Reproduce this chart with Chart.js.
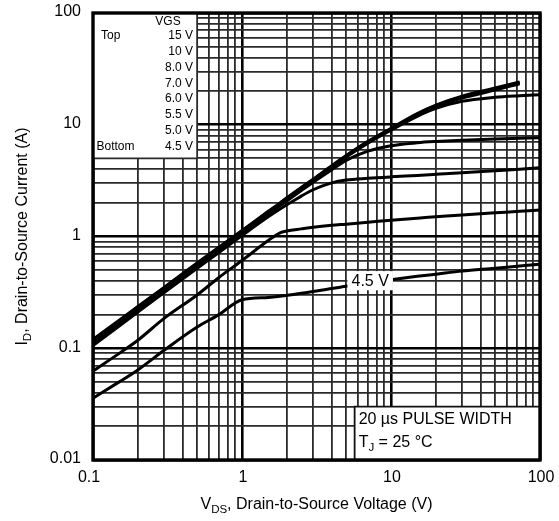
<!DOCTYPE html>
<html><head><meta charset="utf-8">
<script src="https://cdn.jsdelivr.net/npm/chart.js@4.4.1/dist/chart.umd.min.js"></script>
<style>html,body{margin:0;padding:0;background:#fff;}#wrap{width:559px;height:521px;}</style>
</head><body><div id="wrap"><canvas id="c" width="559" height="521"></canvas></div>
<script>
// Drain-to-source voltage (V)
const vds   = [0.1, 0.15, 0.2, 0.3, 0.5, 0.7, 1, 1.5, 1.8, 2, 2.5, 3, 4, 5, 7, 10, 15, 20, 30, 50, 73, 100];
// Drain current (A) per gate voltage
const id15V = [0.12, 0.178, 0.236, 0.35, 0.58, 0.8, 1.13, 1.68, 2.0, 2.22, 2.75, 3.25, 4.3, 5.3, 7.1, 9.3, 12.6, 15.0, 18.0, 21.3, 24.2, null];
const id10V = [0.118, 0.175, 0.233, 0.346, 0.574, 0.792, 1.12, 1.66, 1.98, 2.2, 2.72, 3.22, 4.25, 5.25, 7.0, 9.2, 12.4, 14.8, 17.7, 20.9, 23.8, null];
const id8V  = [0.116, 0.172, 0.23, 0.342, 0.567, 0.785, 1.11, 1.65, 1.96, 2.18, 2.7, 3.19, 4.2, 5.2, 6.95, 9.1, 12.2, 14.5, 17.3, 20.4, 23.3, null];
const id7V  = [0.114, 0.17, 0.227, 0.338, 0.56, 0.778, 1.1, 1.63, 1.94, 2.16, 2.67, 3.16, 4.15, 5.15, 6.85, 8.95, 11.9, 14.0, 16.2, 17.6, 18.2, 18.6];
const id6V  = [0.11, 0.164, 0.219, 0.326, 0.54, 0.75, 1.06, 1.58, 1.88, 2.08, 2.58, 3.05, 3.95, 4.8, 5.8, 6.5, 6.9, 7.08, 7.27, 7.45, 7.56, 7.65];
const id55V = [0.106, 0.158, 0.211, 0.315, 0.52, 0.72, 1.02, 1.5, 1.76, 1.92, 2.3, 2.62, 3.02, 3.2, 3.32, 3.42, 3.52, 3.6, 3.72, 3.88, 4.0, 4.13];
const id5V  = [0.0625, 0.09, 0.118, 0.185, 0.30, 0.43, 0.61, 0.92, 1.08, 1.12, 1.17, 1.21, 1.26, 1.29, 1.34, 1.4, 1.46, 1.5, 1.56, 1.63, 1.68, 1.73];
const id45V = [0.0357, 0.05, 0.064, 0.096, 0.155, 0.2, 0.272, 0.285, 0.292, 0.298, 0.31, 0.322, 0.343, 0.358, 0.383, 0.41, 0.44, 0.46, 0.49, 0.52, 0.545, 0.565];

const vgsLabels = ['15 V', '10 V', '8.0 V', '7.0 V', '6.0 V', '5.5 V', '5.0 V', '4.5 V'];
const seriesList = [id15V, id10V, id8V, id7V, id6V, id55V, id5V, id45V];

const xMajor = [0.1, 1, 10, 100];
const xMajorLabels = ['0.1', '1', '10', '100'];
const yMajor = [0.01, 0.1, 1, 10, 100];
const yMajorLabels = ['0.01', '0.1', '1', '10', '100'];

const FONT = '"Liberation Sans", Arial, Helvetica, sans-serif';

function isMajor(v) { const l = Math.log10(v); return Math.abs(l - Math.round(l)) < 1e-9; }
function logTicks(majors) {
  const out = [];
  for (let i = 0; i < majors.length - 1; i++) {
    for (let k = 1; k <= 9; k++) out.push(Number((k * majors[i]).toPrecision(6)));
  }
  out.push(majors[majors.length - 1]);
  return out.map(v => ({ value: v }));
}

const datasets = seriesList.map((arr, i) => ({
  label: vgsLabels[i],
  data: vds.map((x, j) => arr[j] == null ? null : { x: x, y: arr[j] }).filter(p => p),
  showLine: true,
  borderColor: '#000',
  backgroundColor: '#000',
  borderWidth: 3,
  pointRadius: 0,
  cubicInterpolationMode: 'monotone',
  fill: false
}));

function drawParts(ctx, parts, size, cx, cy) {
  const sub = size * 0.72;
  let total = 0;
  parts.forEach(p => { ctx.font = (p.sub ? sub : size) + 'px ' + FONT; p.w = ctx.measureText(p.t).width; total += p.w; });
  let x = cx - total / 2;
  ctx.textAlign = 'left';
  ctx.textBaseline = 'middle';
  parts.forEach(p => {
    ctx.font = (p.sub ? sub : size) + 'px ' + FONT;
    ctx.fillText(p.t, x, cy + (p.sub ? size * 0.3 : 0));
    x += p.w;
  });
}
function drawPartsLeft(ctx, parts, size, lx, cy) {
  const sub = size * 0.72;
  let x = lx;
  ctx.textAlign = 'left';
  ctx.textBaseline = 'middle';
  parts.forEach(p => {
    ctx.font = (p.sub ? sub : size) + 'px ' + FONT;
    ctx.fillText(p.t, x, cy + (p.sub ? size * 0.3 : 0));
    x += ctx.measureText(p.t).width;
  });
}

const annotations = {
  id: 'annots',
  afterDatasetsDraw(chart) {
    const { ctx, chartArea: a, scales: { x, y } } = chart;
    ctx.save();
    // VGS legend box
    const lx1 = x.getPixelForValue(0.5), ly1 = y.getPixelForValue(5);
    ctx.fillStyle = '#fff';
    ctx.fillRect(a.left, a.top, lx1 - a.left, ly1 - a.top);
    ctx.strokeStyle = '#2a2a2a'; ctx.lineWidth = 1.8;
    ctx.beginPath(); ctx.moveTo(lx1, a.top); ctx.lineTo(lx1, ly1); ctx.lineTo(a.left, ly1); ctx.stroke();
    ctx.fillStyle = '#000';
    ctx.font = '12px ' + FONT;
    ctx.textBaseline = 'middle';
    ctx.textAlign = 'center';
    ctx.fillText('VGS', a.left + 75, a.top + 9);
    ctx.textAlign = 'right';
    vgsLabels.forEach((t, i) => ctx.fillText(t, a.left + 100, a.top + 22.5 + i * 15.9));
    ctx.textAlign = 'left';
    ctx.fillText('Top', a.left + 8, a.top + 22.5);
    ctx.fillText('Bottom', a.left + 3.5, a.top + 22.5 + 7 * 15.9);

    // 4.5 V curve label
    const bx0 = x.getPixelForValue(5.1), bx1 = x.getPixelForValue(10.3);
    const by0 = y.getPixelForValue(0.49), by1 = y.getPixelForValue(0.33);
    ctx.fillStyle = '#fff';
    ctx.fillRect(bx0, by0, bx1 - bx0, by1 - by0);
    ctx.fillStyle = '#000';
    ctx.font = '16px ' + FONT;
    ctx.textAlign = 'center';
    ctx.fillText('4.5 V', (bx0 + bx1) / 2, (by0 + by1) / 2 + 1);

    // pulse width box
    const px0 = x.getPixelForValue(5.7), py0 = y.getPixelForValue(0.03);
    ctx.fillStyle = '#fff';
    ctx.fillRect(px0, py0, a.right - px0, a.bottom - py0);
    ctx.strokeStyle = '#111'; ctx.lineWidth = 1.8;
    ctx.beginPath(); ctx.moveTo(px0, a.bottom); ctx.lineTo(px0, py0); ctx.lineTo(a.right, py0); ctx.stroke();
    ctx.fillStyle = '#000';
    drawPartsLeft(ctx, [{ t: '20 µs PULSE WIDTH' }], 16, px0 + 4, py0 + 13);
    drawPartsLeft(ctx, [{ t: 'T' }, { t: 'J', sub: true }, { t: ' = 25 °C' }], 16, px0 + 4, py0 + 36);
    ctx.restore();
  },
  afterDraw(chart) {
    const { ctx, chartArea: a, scales: { x, y } } = chart;
    ctx.save();
    ctx.strokeStyle = '#000';
    ctx.lineWidth = 3.4;
    ctx.strokeRect(a.left, a.top, a.right - a.left, a.bottom - a.top);
    ctx.fillStyle = '#000';
    // tick labels
    ctx.font = '16px ' + FONT;
    ctx.textBaseline = 'middle';
    ctx.textAlign = 'right';
    yMajor.forEach((v, i) => ctx.fillText(yMajorLabels[i], a.left - 12, y.getPixelForValue(v) - 1));
    ctx.textAlign = 'center';
    xMajor.forEach((v, i) => ctx.fillText(xMajorLabels[i], x.getPixelForValue(v) + (i === 0 ? -4 : 1), a.bottom + 18));
    // axis titles
    drawParts(ctx, [{ t: 'V' }, { t: 'DS', sub: true }, { t: ', Drain-to-Source Voltage (V)' }], 16, (a.left + a.right) / 2, 505);
    ctx.translate(23, (a.top + a.bottom) / 2);
    ctx.rotate(-Math.PI / 2);
    drawParts(ctx, [{ t: 'I' }, { t: 'D', sub: true }, { t: ', Drain-to-Source Current (A)' }], 16, 0, 0);
    ctx.restore();
  }
};

const gridOpts = {
  drawTicks: false,
  color: ctx => isMajor(ctx.tick.value) ? '#000' : '#2a2a2a',
  lineWidth: ctx => isMajor(ctx.tick.value) ? 2.6 : 1.8
};

new Chart(document.getElementById('c'), {
  type: 'scatter',
  data: { datasets },
  plugins: [annotations],
  options: {
    responsive: false,
    animation: false,
    devicePixelRatio: 1,
    layout: { padding: { top: 13, right: 19, left: 0, bottom: 0 } },
    plugins: { legend: { display: false }, tooltip: { enabled: false } },
    scales: {
      x: {
        type: 'logarithmic', min: 0.1, max: 100,
        afterBuildTicks: s => { s.ticks = logTicks(xMajor); },
        afterFit: s => { s.height = 61; },
        border: { display: false },
        grid: gridOpts,
        ticks: { display: false }
      },
      y: {
        type: 'logarithmic', min: 0.01, max: 100,
        afterBuildTicks: s => { s.ticks = logTicks(yMajor); },
        afterFit: s => { s.width = 93; },
        border: { display: false },
        grid: gridOpts,
        ticks: { display: false }
      }
    }
  }
});
</script></body></html>
